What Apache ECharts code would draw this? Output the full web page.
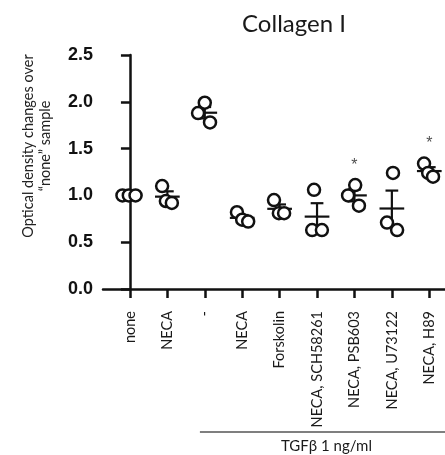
<!DOCTYPE html>
<html>
<head>
<meta charset="utf-8">
<script src="https://cdn.jsdelivr.net/npm/echarts@6/dist/echarts.min.js"></script>
<style>html,body{margin:0;padding:0;background:#fff}#c{width:445px;height:455px}</style>
</head>
<body>
<div id="c"></div>
<script>
// ---- data ----
const categories = ['none', 'NECA', '-', 'NECA', 'Forskolin', 'NECA, SCH58261', 'NECA, PSB603', 'NECA, U73122', 'NECA, H89'];
const values = [
  [1.00, 1.00, 1.00],
  [1.10, 0.94, 0.92],
  [1.99, 1.88, 1.78],
  [0.82, 0.74, 0.72],
  [0.95, 0.81, 0.81],
  [1.06, 0.63, 0.63],
  [1.11, 1.00, 0.89],
  [1.24, 0.71, 0.63],
  [1.34, 1.24, 1.20]
];
const jitter = [
  [-0.20, -0.03, 0.15],
  [-0.14, -0.04, 0.12],
  [0.00, -0.18, 0.14],
  [-0.14, 0.00, 0.16],
  [-0.15, -0.02, 0.12],
  [-0.08, -0.13, 0.13],
  [0.02, -0.17, 0.12],
  [0.03, -0.13, 0.14],
  [-0.14, -0.03, 0.10]
];
const starGroups = [6, 8];
const starValues = [1.32, 1.55];
const yTickValues = [0, 0.5, 1.0, 1.5, 2.0, 2.5];
const titleText = 'Collagen I';
const yTitle = 'Optical density changes over\n\u201cnone\u201d sample';
const bracketText = 'TGF\u03b2 1 ng/ml';
const bracketFrom = 1.87;
const bracketTo = 8.42;

// ---- derived ----
const points = [];
values.forEach((g, i) => g.forEach((v, j) => points.push([i + jitter[i][j], v])));
const stats = values.map((g, i) => {
  const n = g.length;
  const m = g.reduce((a, b) => a + b, 0) / n;
  const sd = Math.sqrt(g.reduce((a, b) => a + (b - m) * (b - m), 0) / (n - 1));
  return [i, m, sd / Math.sqrt(n)];
});
const catIdx = categories.map((_, i) => i);

const chart = echarts.init(document.getElementById('c'), null, {renderer: 'canvas'});
const option = {
  animation: false,
  backgroundColor: '#fff',
  grid: {left: 103, right: 0, top: 55, bottom: 166, containLabel: false},
  xAxis: {
    type: 'value', min: -0.72, max: 8.42,
    axisLine: {show: true, onZero: false, lineStyle: {color: '#111', width: 2.5}},
    axisTick: {show: true, length: 9, lineStyle: {color: '#111', width: 2.5}, customValues: catIdx},
    axisLabel: {
      show: true, rotate: 90, margin: 22, fontFamily: 'Lato', fontSize: 14.5, color: '#1a1a1a',
      customValues: catIdx,
      formatter: v => categories[Math.round(v)] ?? ''
    },
    splitLine: {show: false}
  },
  yAxis: {
    type: 'value', min: 0, max: 2.5, interval: 0.5,
    axisLine: {show: true, lineStyle: {color: '#111', width: 2.5}},
    axisTick: {show: true, length: 9, lineStyle: {color: '#111', width: 2.5}},
    axisLabel: {
      margin: 10, fontFamily: 'Liberation Sans', fontWeight: 'bold', fontSize: 18, color: '#111',
      formatter: v => yTickValues.includes(v) ? v.toFixed(1) : ''
    },
    splitLine: {show: false}
  },
  series: [
    {
      type: 'custom',
      data: stats,
      z: 2,
      renderItem: (params, api) => {
        const g = api.value(0), m = api.value(1), s = api.value(2);
        const st = {stroke: '#111', lineWidth: 2.2};
        const L = (a, b) => ({type: 'line', shape: {x1: a[0], y1: a[1], x2: b[0], y2: b[1]}, style: st});
        const children = [L(api.coord([g - 0.33, m]), api.coord([g + 0.33, m]))];
        if (s > 0.001) {
          children.push(L(api.coord([g, m - s]), api.coord([g, m + s])));
          children.push(L(api.coord([g - 0.17, m + s]), api.coord([g + 0.17, m + s])));
          children.push(L(api.coord([g - 0.17, m - s]), api.coord([g + 0.17, m - s])));
        }
        return {type: 'group', children};
      }
    },
    {
      type: 'scatter',
      data: points,
      z: 3,
      symbol: 'circle',
      symbolSize: 12,
      itemStyle: {color: '#fff', borderColor: '#111', borderWidth: 2.5, opacity: 1}
    },
    {
      type: 'scatter',
      data: starGroups.map((g, i) => [g, starValues[i]]),
      symbolSize: 0,
      z: 4,
      label: {show: true, position: 'inside', formatter: '*', fontFamily: 'Liberation Sans', fontSize: 16, color: '#222'}
    }
  ]
};
chart.setOption(option);

const p1 = chart.convertToPixel({gridIndex: 0}, [bracketFrom, 0]);
const p2 = chart.convertToPixel({gridIndex: 0}, [bracketTo, 0]);
const base = chart.convertToPixel({gridIndex: 0}, [0, 0]);
chart.setOption({
  graphic: [
    {type: 'text', x: 294, y: 24, style: {text: titleText, font: '24px Lato', fill: '#1a1a1a', align: 'center', verticalAlign: 'middle'}},
    {type: 'text', x: 37, y: 146, rotation: Math.PI / 2,
     style: {text: yTitle, font: '14.5px Lato', fill: '#222', align: 'center', verticalAlign: 'middle', lineHeight: 17}},
    {type: 'line', shape: {x1: p1[0], y1: base[1] + 143, x2: p2[0] + 5, y2: base[1] + 143}, style: {stroke: '#555', lineWidth: 1.5}},
    {type: 'text', x: (p1[0] + p2[0]) / 2 + 4, y: base[1] + 157, style: {text: bracketText, font: '15px Lato', fill: '#1a1a1a', align: 'center', verticalAlign: 'middle'}}
  ]
});
</script>
</body>
</html>
